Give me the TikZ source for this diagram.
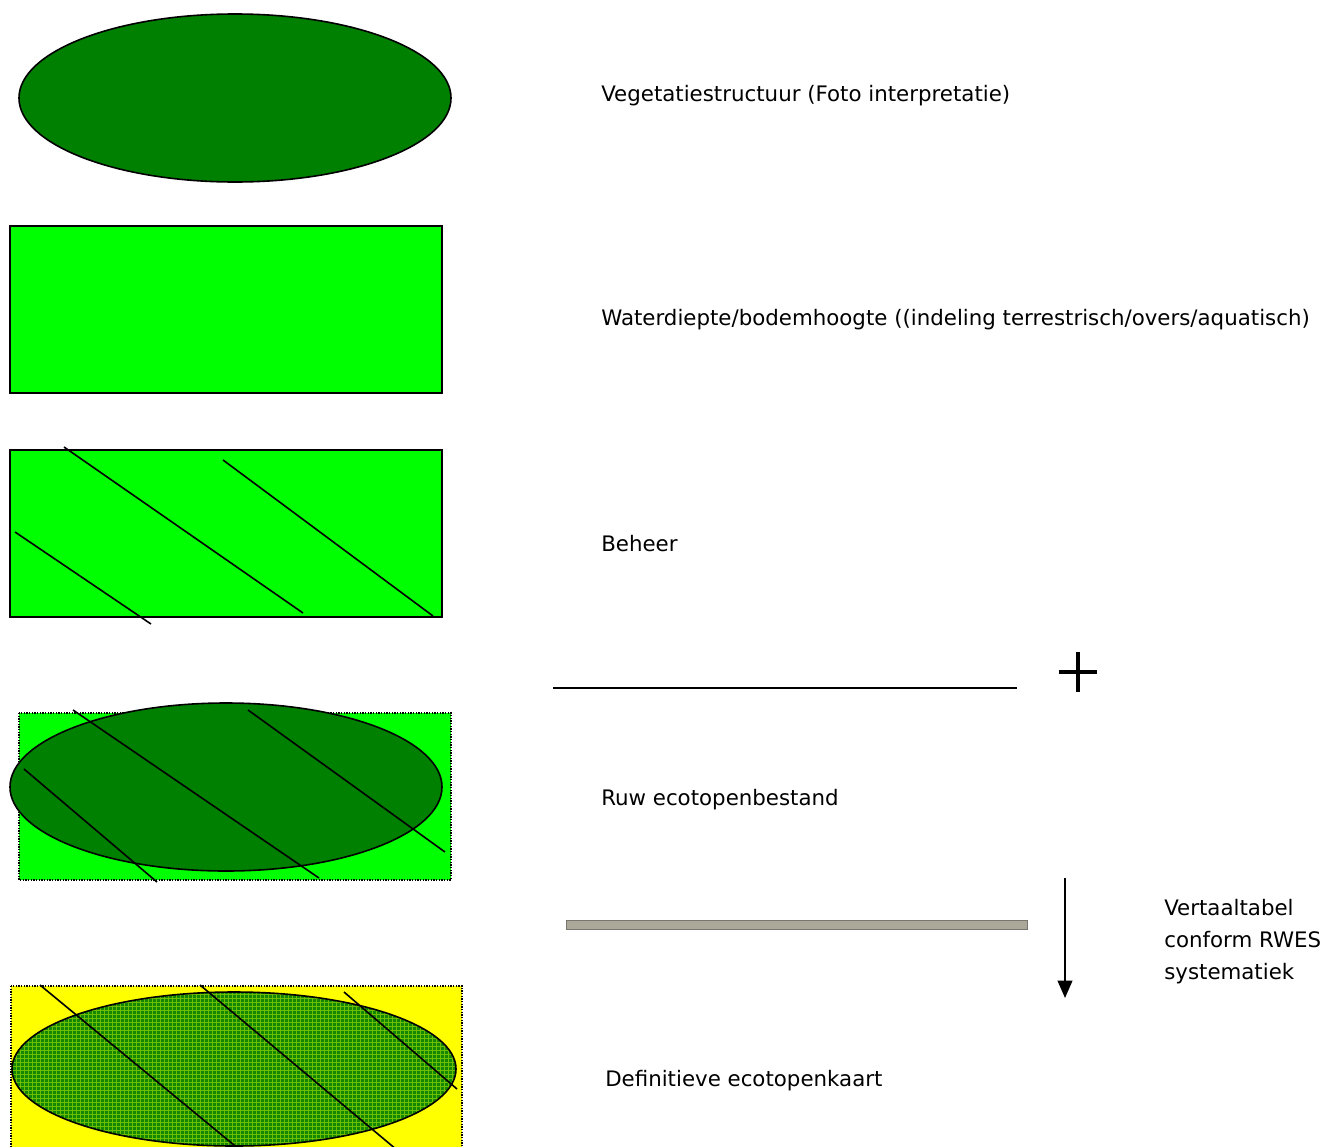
\documentclass[tikz,border=0pt]{standalone}
\usepackage{fontspec}
\setmainfont{DejaVu Sans}
\usetikzlibrary{patterns,arrows.meta,calc}
\definecolor{darkveg}{RGB}{0,128,0}
\definecolor{brightveg}{RGB}{0,255,0}
\definecolor{mapyellow}{RGB}{255,255,0}
\definecolor{gridveg}{RGB}{110,190,0}
\definecolor{basevegmix}{RGB}{20,135,0}
\definecolor{barfill}{RGB}{172,168,153}
\definecolor{baredge}{RGB}{120,118,110}
\tikzset{
  outline/.style={draw=black, line width=1.2pt},
  dottedframe/.style={draw=black, densely dotted, line width=1pt},
  hatchline/.style={draw=black, line width=1.2pt},
  caption/.style={anchor=west, inner sep=0pt, font=\fontsize{16pt}{19pt}\selectfont},
}
\begin{document}
\begin{tikzpicture}[x=0.75pt, y=-0.75pt]
\useasboundingbox (0,0) rectangle (1327,1146);

% vegetation structure layer
\draw[outline, fill=darkveg] (235,98) ellipse [x radius=216, y radius=84];

% water depth layer
\draw[outline, fill=brightveg] (10,226) rectangle (442,393);

% management layer
\draw[outline, fill=brightveg] (10,450) rectangle (442,617);
\draw[hatchline] (64,447) -- (303,613);
\draw[hatchline] (223,460) -- (433,616);
\draw[hatchline] (15,532) -- (151,624);

% raw ecotope file (overlay)
\fill[brightveg] (19,713) rectangle (451,880);
\draw[dottedframe] (19,713) rectangle (451,880);
\draw[outline, fill=darkveg] (226,787) ellipse [x radius=216, y radius=84];
\draw[hatchline] (73,710) -- (319,878);
\draw[hatchline] (248,710) -- (445,852);
\draw[hatchline] (24,769) -- (157,882);

% definitive ecotope map
\fill[mapyellow] (11,986) rectangle (462,1150);
\draw[dottedframe] (11,986) rectangle (462,1150);
\fill[basevegmix] (234,1069) ellipse [x radius=222, y radius=77];
\fill[pattern=grid, pattern color=gridveg] (234,1069) ellipse [x radius=222, y radius=77];
\draw[outline] (234,1069) ellipse [x radius=222, y radius=77];
\draw[hatchline] (40,985) -- (240,1150);
\draw[hatchline] (200,985) -- (397,1150);
\draw[hatchline] (344,992) -- (457,1089);

% captions
\node[caption] (t1) at (601,96) {Vegetatiestructuur (Foto interpretatie)};
\node[caption] (t2) at (601,320) {Waterdiepte/bodemhoogte ((indeling terrestrisch/overs/aquatisch)};
\node[caption] (t3) at (601,544) {Beheer};
\node[caption] (t4) at (601,800) {Ruw ecotopenbestand};
\node[caption] (t5) at (605,1081) {Definitieve ecotopenkaart};
\node[caption, align=left, font=\fontsize{16pt}{24pt}\selectfont] (t6) at (1164,942) {Vertaaltabel\\conform RWES\\systematiek};

% sum line and plus sign
\coordinate (sumL) at (553,688);
\coordinate (sumR) at (1017,688);
\draw[line width=1.4pt] (sumL) -- (sumR);
\coordinate (plusC) at (1078,672);
\draw[line width=3.2pt] ($(plusC)+(-19,0)$) -- ($(plusC)+(19,0)$);
\draw[line width=3.2pt] ($(plusC)+(0,-20)$) -- ($(plusC)+(0,20)$);

% translation bar and arrow
\draw[draw=baredge, fill=barfill, line width=0.6pt] (566,920) rectangle (1027,929);
\coordinate (arrTop) at (1065,878);
\coordinate (arrBot) at (1065,998);
\draw[line width=1.4pt, -{Triangle[length=13pt, width=11pt]}] (arrTop) -- (arrBot);
\end{tikzpicture}
\end{document}
